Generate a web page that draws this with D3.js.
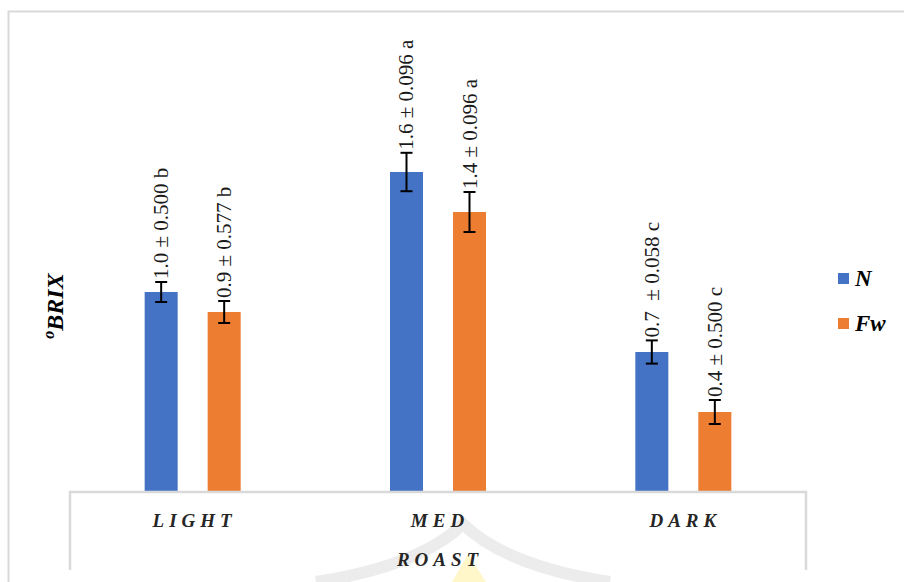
<!DOCTYPE html>
<html>
<head>
<meta charset="utf-8">
<script src="https://cdn.jsdelivr.net/npm/d3@7/dist/d3.min.js"></script>
<style>
  html, body { margin: 0; padding: 0; background: #fff; }
  svg { display: block; }
  svg text { font-family: "Liberation Serif", Tinos, "Times New Roman", Times, "DejaVu Serif", serif; }
</style>
</head>
<body>
<svg id="chart" width="904" height="582"></svg>
<script>
// Roast levels and the two sample series
const categories = ["LIGHT", "MED", "DARK"];
const seriesNames = ["N", "Fw"];
const seriesColors = ["#4472C4", "#ED7D31"];

// Mean °Brix per roast level
const valuesN  = [1.0, 1.6, 0.7];
const valuesFw = [0.9, 1.4, 0.4];

// Error bar half-lengths
const errN  = [0.05, 0.096, 0.058];
const errFw = [0.055, 0.1, 0.06];

// Value annotations (mean ± SD, significance letter)
const labelsN  = ["1.0 ± 0.500 b", "1.6 ± 0.096 a", "0.7  ± 0.058 c"];
const labelsFw = ["0.9 ± 0.577 b", "1.4 ± 0.096 a", "0.4 ± 0.500 c"];

const axisTitle = "ROAST";
const yTitle = "BRIX";

const rows = categories.map((c, i) => ({
  cat: c,
  bars: [
    { s: "N",  v: valuesN[i],  e: errN[i],  label: labelsN[i] },
    { s: "Fw", v: valuesFw[i], e: errFw[i], label: labelsFw[i] }
  ]
}));

const svg = d3.select("#chart");

const plot = { left: 70, right: 806, top: 92, bottom: 492 };

// Outer chart frame
svg.append("rect")
  .attr("x", 8.5).attr("y", 11.5)
  .attr("width", 1000).attr("height", 1000)
  .attr("fill", "none")
  .attr("stroke", "#d9d9d9").attr("stroke-width", 2);

// Faint emblem behind the axis title
const emblem = svg.append("g").attr("opacity", 0.6);
emblem.append("path")
  .attr("d", "M 468 554 L 452 582 L 486 582 Z")
  .attr("fill", "#fff3a8");
emblem.append("path")
  .attr("d", "M 316 582 Q 420 566 463 524 Q 506 566 610 582")
  .attr("fill", "none")
  .attr("stroke", "#e0e0e0").attr("stroke-width", 12);

const x0 = d3.scaleBand()
  .domain(categories)
  .range([plot.left, plot.right]);

const x1 = d3.scaleBand()
  .domain(seriesNames)
  .range([0, x0.bandwidth()])
  .paddingInner(0.476)
  .paddingOuter(1.185);

const color = d3.scaleOrdinal().domain(seriesNames).range(seriesColors);

const y = d3.scaleLinear()
  .domain([0, 2])
  .range([plot.bottom, plot.top]);

// Bars
const groups = svg.append("g").selectAll("g")
  .data(rows)
  .join("g")
  .attr("transform", d => `translate(${x0(d.cat)},0)`);

groups.selectAll("rect")
  .data(d => d.bars)
  .join("rect")
  .attr("x", d => x1(d.s))
  .attr("y", d => y(d.v))
  .attr("width", x1.bandwidth())
  .attr("height", d => y(0) - y(d.v))
  .attr("fill", d => color(d.s));

// Error bars
const capHalf = 6;
const err = groups.selectAll("g.err")
  .data(d => d.bars)
  .join("g")
  .attr("class", "err")
  .attr("stroke", "#000")
  .attr("stroke-width", 2);

err.append("line")
  .attr("x1", d => x1(d.s) + x1.bandwidth() / 2)
  .attr("x2", d => x1(d.s) + x1.bandwidth() / 2)
  .attr("y1", d => y(d.v + d.e))
  .attr("y2", d => y(d.v - d.e));
err.append("line")
  .attr("x1", d => x1(d.s) + x1.bandwidth() / 2 - capHalf)
  .attr("x2", d => x1(d.s) + x1.bandwidth() / 2 + capHalf)
  .attr("y1", d => y(d.v + d.e))
  .attr("y2", d => y(d.v + d.e));
err.append("line")
  .attr("x1", d => x1(d.s) + x1.bandwidth() / 2 - capHalf)
  .attr("x2", d => x1(d.s) + x1.bandwidth() / 2 + capHalf)
  .attr("y1", d => y(d.v - d.e))
  .attr("y2", d => y(d.v - d.e));

// Rotated value annotations above each error bar
groups.selectAll("text.val")
  .data(d => d.bars)
  .join("text")
  .attr("class", "val")
  .attr("transform", d => `translate(${x1(d.s) + x1.bandwidth() / 2},${y(d.v + d.e) - 3}) rotate(-90)`)
  .attr("text-anchor", "start")
  .attr("dominant-baseline", "central")
  .attr("font-size", 21)
  .attr("fill", "#1a1a1a")
  .style("white-space", "pre")
  .text(d => d.label);

// Category axis box
const axisColor = "#d9d9d9";
const boxBottom = 570;
svg.append("path")
  .attr("d", `M ${plot.left} ${boxBottom} V ${plot.bottom} H ${plot.right} V ${boxBottom}`)
  .attr("fill", "none")
  .attr("stroke", axisColor).attr("stroke-width", 2.5);

svg.append("g").selectAll("text")
  .data(categories)
  .join("text")
  .attr("x", d => x0(d) + x0.bandwidth() / 2 + 2)
  .attr("y", 527)
  .attr("text-anchor", "middle")
  .attr("font-size", 19)
  .attr("font-weight", "bold")
  .attr("font-style", "italic")
  .attr("letter-spacing", 5)
  .attr("fill", "#262626")
  .text(d => d);

svg.append("text")
  .attr("x", (plot.left + plot.right) / 2 + 2)
  .attr("y", 566)
  .attr("text-anchor", "middle")
  .attr("font-size", 19)
  .attr("font-weight", "bold")
  .attr("font-style", "italic")
  .attr("letter-spacing", 5)
  .attr("fill", "#262626")
  .text(axisTitle);

// Y axis title: superscript "o" followed by BRIX
const yt = svg.append("text")
  .attr("transform", "translate(63,306) rotate(-90)")
  .attr("text-anchor", "middle")
  .attr("font-weight", "bold")
  .attr("font-style", "italic")
  .attr("fill", "#000");
yt.append("tspan")
  .attr("font-size", 16)
  .attr("dy", -9)
  .text("o");
yt.append("tspan")
  .attr("font-size", 24)
  .attr("dy", 9)
  .text(yTitle);

// Legend
const legend = svg.append("g").selectAll("g")
  .data(seriesNames)
  .join("g")
  .attr("transform", (d, i) => `translate(838,${273 + i * 45})`);
legend.append("rect")
  .attr("width", 11).attr("height", 11)
  .attr("fill", d => color(d));
legend.append("text")
  .attr("x", 17).attr("y", 13)
  .attr("font-size", 23)
  .attr("font-weight", "bold")
  .attr("font-style", "italic")
  .attr("fill", "#000")
  .text(d => d);
</script>
</body>
</html>
